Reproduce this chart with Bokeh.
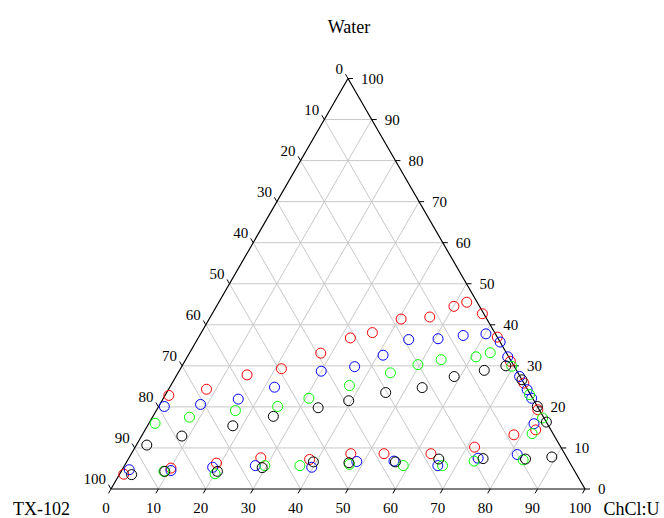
import math
from bokeh.plotting import figure
from bokeh.models import Range1d, ColumnDataSource
from bokeh.embed import file_html
from bokeh.resources import INLINE
from bokeh.core.properties import value

# ---------------- data (mass %) : ChCl:U and Water; TX-102 = 100 - ChCl:U - Water
red_chcl = [0.9, 10.1, 19.1, 27.8, 38.3, 46.3, 53.3, 63.2, 71.6, 78.4, 82.4, 80.4, 74.2, 68.7,
            63.0, 57.0, 52.3, 50.1, 46.3, 40.5, 36.1, 32.1, 27.7, 21.3, 14.8, 8.0, 0.8]
red_water = [3.6, 5.1, 6.3, 7.6, 7.2, 8.6, 8.6, 8.6, 10.2, 13.2, 14.4, 19.3, 25.8, 31.1,
             37.0, 42.7, 45.5, 44.5, 41.9, 41.4, 38.1, 36.8, 33.1, 29.3, 27.8, 24.3, 22.8]

blue_chcl = [1.5, 10.4, 18.8, 27.6, 39.7, 48.5, 56.3, 66.1, 73.7, 81.5, 81.3, 77.7, 75.7, 72.5,
             67.6, 64.2, 60.2, 55.6, 50.7, 44.6, 41.1, 36.5, 30.0, 22.1, 15.9, 8.6, 1.2]
blue_water = [4.7, 4.5, 5.3, 5.7, 5.3, 6.7, 6.8, 5.7, 7.5, 8.4, 15.9, 22.1, 24.2, 27.4,
              32.2, 35.8, 37.8, 37.4, 36.6, 36.4, 32.6, 29.8, 28.7, 24.8, 21.9, 20.6, 20.1]

green_chcl = [9.0, 20.1, 29.6, 37.0, 47.3, 58.8, 67.1, 73.2, 83.4, 82.1, 82.4, 76.8, 69.6, 63.4,
              60.9, 53.9, 49.6, 44.8, 37.7, 30.7, 25.1, 16.7, 7.8, 1.3]
green_water = [4.3, 3.7, 5.7, 5.7, 6.0, 5.7, 5.7, 6.8, 7.1, 13.5, 17.3, 23.0, 29.9, 33.2,
               32.2, 31.5, 30.3, 28.3, 25.2, 22.1, 20.1, 19.1, 17.5, 16.0]

black_chcl = [2.6, 9.2, 20.3, 29.3, 39.4, 47.0, 56.7, 65.5, 74.8, 83.8, 89.1, 83.7, 79.9, 73.4,
              68.3, 64.3, 58.7, 53.3, 46.2, 39.4, 33.8, 25.4, 18.0, 8.5, 2.2]
black_water = [3.5, 4.3, 4.3, 5.2, 6.6, 6.4, 6.6, 7.3, 7.4, 7.3, 7.8, 16.3, 20.1, 26.6,
               30.0, 28.9, 27.4, 24.7, 23.5, 21.5, 19.8, 17.7, 15.4, 12.9, 10.7]

tick_values = [0, 10, 20, 30, 40, 50, 60, 70, 80, 90, 100]
grid_values = [10, 20, 30, 40, 50, 60, 70, 80, 90]
axis_titles = {"top": "Water", "left": "TX-102", "right": "ChCl:U"}

series = [
    ("red", red_chcl, red_water),
    ("blue", blue_chcl, blue_water),
    ("#00ff00", green_chcl, green_water),
    ("black", black_chcl, black_water),
]

# ---------------- ternary -> cartesian
S = math.sqrt(3) / 2


def tx(c, w):
    return c + w / 2.0


def ty(c, w):
    return w * S


# ---------------- figure / pixel calibration (page has no margin: figure fills window)
W_PX, H_PX = 664, 518
K = 4.74                 # pixels per percent unit
OX, OY = 110.5, 488.5    # bottom-left vertex, pixels from figure top-left
xs = -OX / K
xe = xs + W_PX / K
ye = OY / K
ys = ye - H_PX / K

p = figure(width=W_PX, height=H_PX, x_range=Range1d(xs, xe), y_range=Range1d(ys, ye),
           output_backend="svg", toolbar_location=None, min_border=0)
p.axis.visible = False
p.grid.visible = False
p.outline_line_color = None
p.background_fill_color = "white"
p.border_fill_color = "white"

# ---------------- grid lines
gx, gy = [], []
for k in grid_values:
    # constant water
    gx.append([tx(0, k), tx(100 - k, k)]); gy.append([ty(0, k), ty(100 - k, k)])
    # constant ChCl:U
    gx.append([tx(k, 0), tx(k, 100 - k)]); gy.append([ty(k, 0), ty(k, 100 - k)])
    # constant TX-102
    gx.append([tx(100 - k, 0), tx(0, 100 - k)]); gy.append([ty(100 - k, 0), ty(0, 100 - k)])
p.multi_line(gx, gy, line_color="#c8c8c8", line_width=1)

# ---------------- triangle frame
p.line([tx(0, 0), tx(100, 0), tx(0, 100), tx(0, 0)],
       [ty(0, 0), ty(100, 0), ty(0, 100), ty(0, 0)], line_color="black", line_width=1.2)

# ---------------- ticks
L = 5.0 / K
tkx, tky = [], []
for t in tick_values:
    # bottom (ChCl:U): down-left
    x0, y0 = tx(t, 0), ty(t, 0)
    tkx.append([x0, x0 - 0.5 * L]); tky.append([y0, y0 - S * L])
    # right (Water): to the right
    x0, y0 = tx(100 - t, t), ty(100 - t, t)
    tkx.append([x0, x0 + L]); tky.append([y0, y0])
    # left (TX-102): up-left
    x0, y0 = tx(0, 100 - t), ty(0, 100 - t)
    tkx.append([x0, x0 - 0.5 * L]); tky.append([y0, y0 + S * L])
p.multi_line(tkx, tky, line_color="black", line_width=1)

FONT = value("Liberation Serif")
lab = [str(t) for t in tick_values]

src_b = ColumnDataSource(dict(x=[tx(t, 0) for t in tick_values], y=[0] * len(tick_values), t=lab))
p.text(x="x", y="y", text="t", source=src_b, text_font=FONT, text_font_size="15px",
       text_align="center", text_baseline="middle", x_offset=-5, y_offset=19, text_color="black")

src_r = ColumnDataSource(dict(x=[tx(100 - t, t) for t in tick_values],
                              y=[ty(100 - t, t) for t in tick_values], t=lab))
p.text(x="x", y="y", text="t", source=src_r, text_font=FONT, text_font_size="15px",
       text_align="left", text_baseline="middle", x_offset=13, y_offset=0, text_color="black")

src_l = ColumnDataSource(dict(x=[tx(0, 100 - t) for t in tick_values],
                              y=[ty(0, 100 - t) for t in tick_values], t=lab))
p.text(x="x", y="y", text="t", source=src_l, text_font=FONT, text_font_size="15px",
       text_align="right", text_baseline="middle", x_offset=-5, y_offset=-10, text_color="black")

# ---------------- axis titles
p.text(x=[tx(0, 100)], y=[ty(0, 100)], text=[axis_titles["top"]], text_font=FONT,
       text_font_size="18px", text_align="center", text_baseline="alphabetic",
       x_offset=1, y_offset=-51.5, text_color="black")
p.text(x=[tx(0, 0)], y=[ty(0, 0)], text=[axis_titles["left"]], text_font=FONT,
       text_font_size="18px", text_align="left", text_baseline="alphabetic",
       x_offset=-98, y_offset=19.5, text_color="black")
p.text(x=[tx(100, 0)], y=[ty(100, 0)], text=[axis_titles["right"]], text_font=FONT,
       text_font_size="18px", text_align="right", text_baseline="middle",
       x_offset=74.5, y_offset=19.5, text_color="black")

# ---------------- data points
for color, c, w in series:
    src = ColumnDataSource(dict(x=[tx(a, b) for a, b in zip(c, w)],
                                y=[ty(a, b) for a, b in zip(c, w)]))
    p.scatter(x="x", y="y", source=src, marker="circle", size=10, fill_color=None,
              line_color=color, line_width=1)

open("out.html", "w").write(file_html(p, INLINE))
